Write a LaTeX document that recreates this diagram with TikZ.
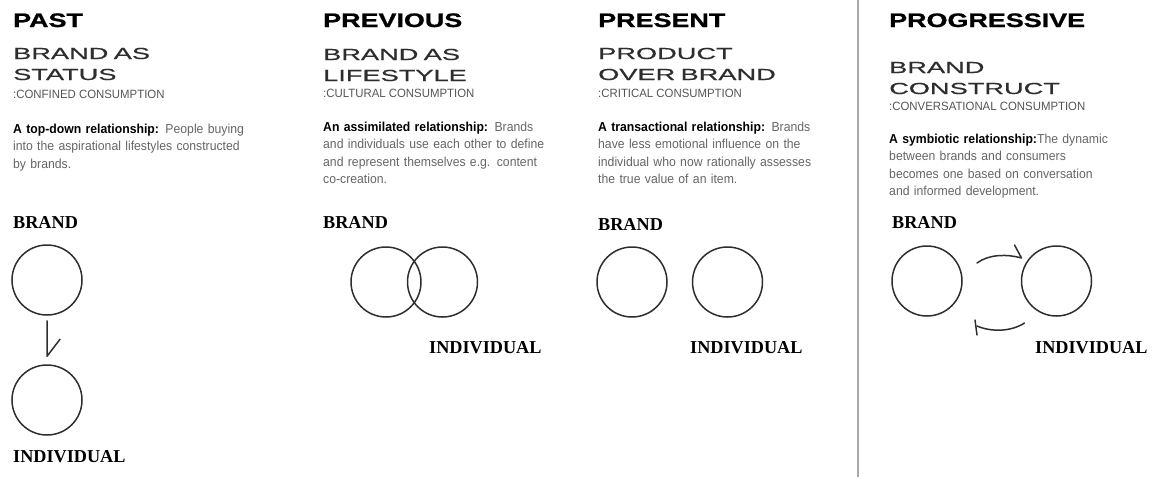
\documentclass[tikz,border=0pt]{standalone}
\usepackage{fontspec}
\setmainfont{Liberation Sans}
\newfontfamily\headfont[FakeStretch=1.38,FakeBold=1]{Liberation Sans}
\newfontfamily\widefont[FakeStretch=1.7,FakeBold=0.6]{Liberation Sans}
\newfontfamily\narrowfont[FakeStretch=0.95]{Liberation Sans}
\newfontfamily\bodyfont[FakeStretch=0.94]{Liberation Sans}
\newfontfamily\labelfont{Liberation Serif}
\usetikzlibrary{positioning}
\definecolor{inkgray}{HTML}{2E2E2E}
\definecolor{textgray}{HTML}{656565}
\definecolor{subgray}{HTML}{555555}
\definecolor{rulegray}{HTML}{A8A8A8}

\begin{document}
\begin{tikzpicture}[x=1pt, y=1pt,
  era/.style={anchor=base west, inner sep=0, font=\headfont\bfseries\fontsize{19.5}{22}\selectfont},
  title/.style={anchor=base west, inner sep=0, text width=300pt, align=left,
    text=inkgray, font=\widefont\fontsize{16}{21}\selectfont},
  mode/.style={anchor=base west, inner sep=0, text=subgray,
    font=\narrowfont\fontsize{12}{14}\selectfont},
  body/.style={anchor=base west, inner sep=0, text width=280pt, align=left,
    text=textgray, font=\bodyfont\fontsize{13}{17.5}\selectfont},
  tag/.style={inner sep=0, font=\labelfont\bfseries\fontsize{18.2}{22}\selectfont},
  ring/.style={draw=inkgray, line width=1.5pt, circle, minimum size=70pt, inner sep=0},
  hand/.style={draw=inkgray, line width=1.5pt, line cap=round, line join=round},
  rule/.style={draw=rulegray, line width=2pt}
]
\useasboundingbox (0,0) rectangle (1152,-477);

% past
\node[era] (past) at (13,-27) {PAST};
\node[title] (pasttitle) at (13,-59) {BRAND AS\\STATUS};
\node[mode] (pastmode) at (13,-98) {:CONFINED CONSUMPTION};
\node[body] (pastbody) at (13,-133) {{\bfseries\color{black}A top-down relationship:} People buying\\into the aspirational lifestyles constructed\\by brands.};
\node[tag, anchor=base west] (pastbrand) at (13,-228) {BRAND};
\node[ring] (brandA) at (47,-280) {};
\node[ring] (indivA) at (47,-400) {};
\node[tag, anchor=base west] (pastindiv) at (13,-462) {INDIVIDUAL};
\draw[hand] ([yshift=-5pt]brandA.south) -- ([yshift=8pt]indivA.north) -- ++(13,17);

% previous
\node[era] (previous) at (323,-27) {PREVIOUS};
\node[title] (prevtitle) at (323,-60) {BRAND AS\\LIFESTYLE};
\node[mode] (prevmode) at (323,-97) {:CULTURAL CONSUMPTION};
\node[body] (prevbody) at (323,-131) {{\bfseries\color{black}An assimilated relationship:} Brands\\and individuals use each other to define\\and represent themselves e.g. content\\co-creation.};
\node[tag, anchor=base west] (prevbrand) at (323,-228) {BRAND};
\node[ring] (brandB) at (386,-282) {};
\node[ring, right=-15pt of brandB] (indivB) {};
\node[tag, anchor=base west] (previndiv) at (429,-353) {INDIVIDUAL};

% present
\node[era] (present) at (598,-27) {PRESENT};
\node[title] (prestitle) at (598,-59) {PRODUCT\\OVER BRAND};
\node[mode] (presmode) at (598,-97) {:CRITICAL CONSUMPTION};
\node[body] (presbody) at (598,-131) {{\bfseries\color{black}A transactional relationship:} Brands\\have less emotional influence on the\\individual who now rationally assesses\\the true value of an item.};
\node[tag, anchor=base west] (presbrand) at (598,-230) {BRAND};
\node[ring] (brandC) at (632,-282) {};
\node[ring, right=24pt of brandC] (indivC) {};
\node[tag, anchor=base west] (presindiv) at (690,-353) {INDIVIDUAL};

\draw[rule] (857.5,0) -- (857.5,-477);

% progressive
\node[era] (progressive) at (889,-27) {PROGRESSIVE};
\node[title] (progtitle) at (889,-73) {BRAND\\CONSTRUCT};
\node[mode] (progmode) at (889,-110) {:CONVERSATIONAL CONSUMPTION};
\node[body] (progbody) at (889,-143) {{\bfseries\color{black}A symbiotic relationship:}The dynamic\\between brands and consumers\\becomes one based on conversation\\and informed development.};
\node[tag, anchor=base west] (progbrand) at (892,-228) {BRAND};
\node[ring] (brandD) at (927,-281) {};
\node[ring, right=58pt of brandD] (indivD) {};
\node[tag, anchor=base west] (progindiv) at (1035,-353) {INDIVIDUAL};
\draw[hand] ([shift={(50,18)}]brandD.center) .. controls +(12,9) and +(-14,4) .. ([shift={(-35,23)}]indivD.center) -- ++(-7,13);
\draw[hand] ([shift={(-32,-42)}]indivD.center) .. controls +(-14,-9) and +(14,-6) .. ([shift={(50,-45)}]brandD.center);
\draw[hand] ([shift={(48,-39)}]brandD.center) -- ++(2,-15);
\end{tikzpicture}
\end{document}
